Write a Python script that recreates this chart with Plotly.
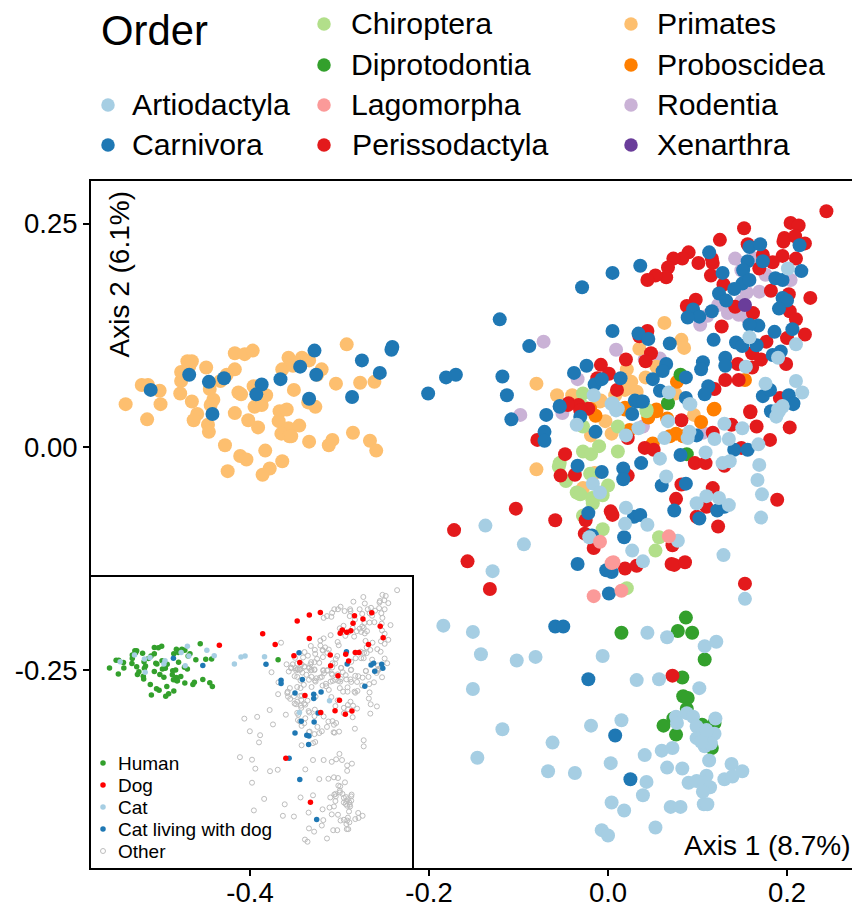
import plotly.graph_objects as go

# ---- main ordination, points as (Axis 1, Axis 2) ----
human_primates = [(-0.539,0.048),(-0.515,0.031),(-0.521,0.0695),(-0.514,0.0695),(-0.501,0.063),(-0.500,0.048),(-0.478,0.060),(-0.477,0.074),(-0.477,0.084),(-0.470,0.096),(-0.465,0.096),(-0.468,0.090),(-0.449,0.089),(-0.465,0.051),(-0.459,0.037),(-0.463,0.030),(-0.447,0.025),(-0.446,0.017),(-0.445,0.065),(-0.441,0.053),(-0.444,0.047),(-0.428,0.002),(-0.417,0.038),(-0.417,0.105),(-0.406,0.104),(-0.397,0.108),(-0.417,0.087),(-0.426,0.081),(-0.433,0.074),(-0.413,0.061),(-0.410,0.059),(-0.396,0.068),(-0.402,0.030),(-0.391,0.022),(-0.382,0.058),(-0.395,0.045),(-0.387,0.047),(-0.351,0.064),(-0.367,0.040),(-0.359,0.042),(-0.368,0.029),(-0.357,0.021),(-0.345,0.024),(-0.365,0.015),(-0.356,0.012),(-0.354,0.012),(-0.334,0.006),(-0.383,-0.004),(-0.411,-0.010),(-0.404,-0.014),(-0.364,-0.016),(-0.378,-0.024),(-0.386,-0.031),(-0.425,-0.027),(-0.292,0.115),(-0.357,0.100),(-0.364,0.087),(-0.352,0.091),(-0.342,0.100),(-0.344,0.096),(-0.334,0.097),(-0.320,0.087),(-0.325,0.081),(-0.304,0.071),(-0.277,0.072),(-0.261,0.073),(-0.335,0.050),(-0.327,0.045),(-0.285,0.016),(-0.266,0.007),(-0.259,-0.004),(-0.308,0.008),(-0.312,0.002),(-0.080,0.071)]

other_primates = [(0.063,0.139),(0.082,0.120),(0.085,0.111),(0.035,0.110),(0.021,0.087),(0.026,0.073),(0.042,0.078),(0.054,0.090),(0.019,0.064),(0.032,0.062),(0.008,0.058),(-0.008,0.052),(-0.057,0.058),(-0.040,0.058),(0.075,0.060),
(-0.080,-0.025),(-0.015,-0.029),(-0.028,-0.046),(-0.019,0.013),(0.004,0.015),(-0.003,0.029),(0.096,0.036),(-0.009,0.051)]

carnivora = [(-0.328,0.108),(-0.275,0.097),(-0.255,0.083),(-0.241,0.112),(-0.242,0.109),(-0.201,0.060),(-0.181,0.078),(-0.170,0.081),(-0.286,0.056),(-0.334,0.054),(-0.366,0.076),(-0.387,0.070),(-0.393,0.059),(-0.429,0.077),(-0.446,0.073),(-0.442,0.037),(-0.511,0.064),(-0.468,0.081),(-0.344,0.090),(-0.326,0.081),
(-0.029,0.179),(0.005,0.195),(0.036,0.203),(0.113,0.218),(-0.121,0.143),(-0.088,0.113),(0.005,0.130),(0.034,0.127),(0.045,0.121),(0.069,0.116),(0.118,0.120),(-0.118,0.079),(-0.113,0.058),(-0.024,0.091),(-0.038,0.083),(-0.015,0.070),(-0.007,0.076),(0.014,0.077),(-0.054,0.046),(0.065,0.093),(0.061,0.085),(0.050,0.076),(0.087,0.078),(0.106,0.095),(0.104,0.087),(0.131,0.100),(0.131,0.091),(0.112,0.068),(0.108,0.059),(0.058,0.063),(0.030,0.052),(0.037,0.051),(0.087,0.055),(0.158,0.224),(0.170,0.227),(0.214,0.226),(0.173,0.208),(0.156,0.208),(0.151,0.198),(0.128,0.195),(0.216,0.197),(0.187,0.189),(0.195,0.187),(0.150,0.183),(0.158,0.187),(0.141,0.177),(0.124,0.172),(0.132,0.164),(0.116,0.152),(0.095,0.154),(0.102,0.146),(0.089,0.145),(0.195,0.167),(0.200,0.164),(0.191,0.155),(0.168,0.136),(0.158,0.137),(0.206,0.132),(0.186,0.129),(0.143,0.117),(0.150,0.113),(0.166,0.114),(0.193,0.107),(0.184,0.103),(0.173,0.057),(0.181,0.064),(0.202,0.058),(0.207,0.049),
(-0.034,-0.131),(0.001,-0.164),(-0.002,-0.138),(0.004,-0.140),(0.018,-0.101),(0.029,-0.078),(0.036,-0.076),(-0.022,-0.074),(-0.018,-0.099),(-0.034,-0.021),(-0.007,-0.028),(0.017,-0.024),(0.017,-0.036),(0.037,-0.018),(0.060,-0.043),(0.087,-0.041),(0.074,-0.071),(0.102,-0.080),(0.122,-0.071),(0.130,-0.067),(0.081,-0.009),(0.141,-0.003),(0.156,-0.003),(-0.071,0.017),(-0.071,0.007),(-0.108,0.031),(-0.069,0.036),(-0.054,0.045),(0.027,0.037),(-0.014,0.017),(-0.031,0.034),(0.099,0.013),(0.182,0.040),(0.207,0.048),(0.032,0.051),(0.039,0.051),
(-0.059,-0.201),(-0.050,-0.201),(-0.022,-0.260),(0.008,-0.323),(0.025,-0.372)]

perissodactyla = [(0.244,0.264),(0.204,0.251),(0.213,0.248),(0.152,0.245),(0.125,0.232),(0.156,0.227),(0.197,0.234),(0.209,0.236),(0.196,0.230),(0.220,0.228),(0.195,0.214),(0.210,0.211),(0.173,0.215),(0.184,0.207),(0.169,0.200),(0.182,0.175),(0.202,0.171),(0.226,0.167),(0.203,0.152),(0.210,0.143),(0.200,0.122),(0.220,0.126),(0.177,0.118),(0.161,0.105),(0.171,0.098),(0.161,0.089),(0.145,0.093),(0.199,0.093),(0.131,0.075),(0.146,0.075),(0.119,0.065),(0.192,0.055),(0.159,0.040),(0.090,0.218),(0.083,0.211),(0.073,0.211),(0.067,0.201),(0.065,0.190),(0.053,0.192),(0.044,0.187),(0.101,0.206),(0.117,0.206),(0.116,0.211),(0.115,0.192),(0.129,0.182),(0.098,0.165),(0.088,0.158),(0.093,0.152),(0.127,0.135),(0.162,0.150),(0.142,0.157),(0.044,0.130),(0.035,0.124),(0.048,0.105),(0.020,0.098),(-0.008,0.092),(0.001,0.082),(0.042,0.096),(-0.012,0.077),(0.010,0.064),(-0.044,0.049),(-0.033,0.047),
(-0.172,-0.093),(-0.103,-0.069),(-0.059,-0.082),(-0.157,-0.128),(-0.132,-0.159),(-0.079,0.008),(-0.048,-0.008),(-0.053,-0.032),(-0.037,-0.031),(0.003,-0.072),(0.005,-0.076),(-0.025,-0.082),(-0.026,-0.097),(-0.016,-0.113),(0.019,-0.136),(0.032,-0.133),(0.071,-0.131),(0.074,-0.132),(0.086,-0.129),(0.072,-0.110),(0.123,-0.089),(0.099,-0.078),(0.110,-0.067),(0.117,-0.046),(0.076,-0.058),(0.082,-0.042),(0.022,-0.032),(0.189,-0.059),(0.153,-0.153),(0.203,0.022),(0.181,0.008),(0.166,0.023),(0.159,0.039),(0.149,-0.001),(0.117,0.016),(0.138,0.025),(0.130,-0.021),(0.097,-0.018),(0.109,-0.018),(0.041,-0.001),(0.051,-0.003),(0.022,0.010),(0.082,0.030),(-0.022,0.043),(-0.045,0.047),(-0.031,0.041),
(0.072,-0.256)]

rodentia = [(-0.072,0.118),(0.142,0.211),(0.164,0.211),(0.149,0.198),(0.176,0.193),(0.204,0.187),(0.155,0.173),(0.169,0.174),(0.123,0.159),(0.134,0.150),(0.146,0.148),(0.149,0.163),(0.156,0.144),(0.111,0.147),(0.103,0.137),(0.009,0.109),(0.041,0.098),(0.058,0.099),(-0.034,0.076),(-0.098,0.036),(-0.051,0.038),(0.039,0.023),(0.106,0.016)]

xenarthra = [(0.153,0.159)]

artiodactyla = [(0.201,0.200),(0.210,0.115),(0.158,0.123),(0.190,0.100),(0.154,0.090),(0.176,0.071),(0.210,0.074),(0.217,0.061),(0.068,0.061),(-0.016,0.058),(0.005,0.049),(0.091,0.048),(0.195,0.046),(0.190,0.042),(0.011,0.043),
(-0.137,-0.088),(-0.094,-0.109),(-0.129,-0.139),(0.153,-0.170),(0.129,-0.121),(0.171,-0.079),(0.172,-0.053),(0.167,-0.037),(0.169,-0.020),(0.168,0.003),(0.150,0.021),(0.130,0.026),(0.135,0.009),(0.119,0.009),(0.109,-0.006),(0.128,-0.018),(0.136,-0.016),(0.135,-0.065),(0.124,-0.057),(0.110,-0.055),(0.099,-0.063),(0.065,-0.033),(0.058,-0.013),(0.063,0.010),(0.091,0.017),(0.089,0.010),(0.067,0.029),(0.020,0.013),(0.034,0.021),(-0.035,0.025),(0.009,0.041),(0.004,0.048),(-0.017,-0.041),(-0.009,-0.051),(0.020,-0.068),(0.019,-0.086),(0.044,-0.087),(-0.021,-0.101),(0.027,-0.116),(0.039,-0.128),(0.078,-0.105),(0.188,0.034),(0.195,0.045),(0.191,0.040),(0.092,0.048),
(-0.184,-0.200),(-0.151,-0.207),(-0.142,-0.232),(-0.102,-0.239),(-0.081,-0.235),(-0.006,-0.234),(-0.151,-0.271),(-0.118,-0.316),(-0.062,-0.331),(-0.146,-0.348),(-0.067,-0.363),(-0.037,-0.365),(-0.019,-0.312),(0.015,-0.306),(0.003,-0.354),(0.044,-0.208),(0.066,-0.213),(0.032,-0.261),(0.057,-0.260),(0.108,-0.223),(0.121,-0.218),(0.102,-0.270),(0.041,-0.345),(0.060,-0.340),(0.072,-0.337),(0.066,-0.359),(0.083,-0.360),(0.043,-0.375),(0.039,-0.390),(0.004,-0.398),(0.018,-0.407),(-0.007,-0.429),(0.000,-0.435),(0.053,-0.426),(0.070,-0.403),(0.081,-0.403),(0.107,-0.400),(0.111,-0.400),(0.090,-0.376),(0.099,-0.374),(0.110,-0.368),(0.108,-0.376),(0.114,-0.381),(0.106,-0.386),(0.113,-0.351),(0.130,-0.372),(0.139,-0.369),(0.138,-0.355),(0.150,-0.363),(0.076,-0.302),(0.088,-0.298),(0.077,-0.309),(0.095,-0.302),(0.099,-0.313),(0.120,-0.304),(0.099,-0.326),(0.106,-0.322),(0.114,-0.326),(0.119,-0.321),(0.108,-0.335),(0.115,-0.332),(0.104,-0.330),(0.110,-0.317)]

chiroptera = [(-0.028,0.060),(-0.027,0.045),(0.043,0.042),(-0.028,-0.005),(-0.019,-0.008),(-0.010,0.001),(0.011,-0.005),(0.011,0.023),(-0.027,0.044),(-0.054,-0.018),(-0.055,-0.022),(-0.047,-0.038),(-0.020,-0.030),(0.000,-0.043),(-0.035,-0.051),(-0.031,-0.053),(-0.018,-0.057),(-0.017,-0.063),(-0.006,-0.054),(-0.028,-0.077),(-0.006,-0.092),(0.057,-0.101),(0.053,-0.116),(0.021,-0.158),(-0.028,0.023),(0.043,0.040)]

diprotodontia = [(0.081,0.081),(0.067,0.049),(0.088,-0.008),(0.087,-0.191),(0.078,-0.206),(0.094,-0.208),(0.015,-0.208),(0.108,-0.238),(0.083,-0.258),(0.084,-0.279),(0.089,-0.281),(0.088,-0.293),(0.062,-0.312),(0.073,-0.304),(0.076,-0.322),(0.105,-0.311),(0.119,-0.309),(0.116,-0.337)]

lagomorpha = [(-0.016,-0.167),(0.015,-0.161),(0.006,-0.129),(0.004,-0.130),(-0.009,-0.106),(0.068,-0.100)]

proboscidea = [(0.077,0.073),(0.119,0.043),(0.054,0.042),(0.019,0.044),(0.153,0.075),(0.118,0.042),(0.104,0.028),(-0.014,0.035),(0.045,0.033),(0.054,0.040),(0.066,0.032),(0.076,0.015),(0.069,0.012),(0.050,0.004),(0.024,0.019),(-0.020,0.043),(0.019,0.042),(0.084,0.012)]

# ---- inset: carnivores split by household ----
dog = [(-0.240,0.111),(-0.122,0.143),(-0.088,0.113),(-0.028,0.178),(0.005,0.195),(0.035,0.202),(0.128,0.193),(0.175,0.201),(0.151,0.184),(0.124,0.172),(0.198,0.164),(0.089,0.144),(0.095,0.153),(0.107,0.147),(0.118,0.151),(0.005,0.130),(0.206,0.132),(0.166,0.113),(0.130,0.091),(0.140,0.091),(0.062,0.084),(0.104,0.086),(-0.037,0.082),(0.112,0.067),(-0.021,0.063),(0.063,0.054),(0.083,0.026),(-0.007,-0.029),(0.087,-0.042),(0.036,-0.076),(0.075,-0.071),(0.103,-0.081),(0.121,-0.072),(-0.059,-0.203),(0.008,-0.325)]
cat = [(-0.510,0.065),(-0.471,0.084),(-0.444,0.073),(-0.429,0.077),(-0.442,0.036),(-0.388,0.068),(-0.391,0.059),(-0.344,0.091),(-0.327,0.108),(-0.323,0.081),(-0.333,0.054),(-0.274,0.097),(-0.254,0.082),(-0.199,0.059),(-0.181,0.078),(-0.170,0.081),(-0.117,0.079),(0.060,-0.043),(-0.022,-0.076)]
cat_with_dog = [(-0.365,0.075),(-0.285,0.055),(-0.113,0.058),(-0.023,0.090),(0.106,0.093),(0.108,0.059),(0.180,0.061),(0.173,0.056),(0.202,0.058),(0.205,0.047),(0.183,0.039),(-0.072,0.014),(-0.072,0.005),(-0.014,0.016),(0.156,-0.003),(-0.034,-0.022),(0.037,-0.019),(0.017,-0.025),(0.017,-0.037),(0.029,-0.077),(-0.017,-0.100),(0.018,-0.102),(-0.034,-0.133),(-0.002,-0.139),(0.004,-0.141),(0.003,-0.165),(-0.050,-0.203),(-0.021,-0.262),(0.025,-0.373)]

x_ticks = [-0.4, -0.2, 0.0, 0.2]
x_tick_labels = ["-0.4", "-0.2", "0.0", "0.2"]
y_ticks = [0.25, 0.0, -0.25]
y_tick_labels = ["0.25", "0.00", "-0.25"]

W, H = 852, 905
FONT = "Liberation Sans"
COL = {"Artiodactyla":"#a6cee3","Carnivora":"#1f78b4","Chiroptera":"#b2df8a","Diprotodontia":"#33a02c",
       "Lagomorpha":"#fb9a99","Perissodactyla":"#e31a1c","Primates":"#fdbf6f","Proboscidea":"#ff7f00",
       "Rodentia":"#cab2d6","Xenarthra":"#6a3d9a"}

def xs(p): return [a for a, _ in p]
def ys(p): return [b for _, b in p]
def dx(a, b): return [a / W, b / W]
def dy(top, bottom): return [1 - bottom / H, 1 - top / H]

fig = go.Figure()
layers = [("Rodentia",rodentia),("Primates",human_primates + other_primates),("Proboscidea",proboscidea),("Diprotodontia",diprotodontia),
          ("Chiroptera",chiroptera),("Perissodactyla",perissodactyla),("Carnivora",carnivora),
          ("Artiodactyla",artiodactyla),("Lagomorpha",lagomorpha),("Xenarthra",xenarthra)]
for name, pts in layers:
    fig.add_trace(go.Scatter(x=xs(pts), y=ys(pts), mode="markers", name=name, showlegend=False,
                             marker=dict(size=14, color=COL[name], line=dict(width=0))))

other = artiodactyla + chiroptera + diprotodontia + lagomorpha + perissodactyla + proboscidea + rodentia + xenarthra + other_primates
fig.add_trace(go.Scatter(x=xs(other), y=ys(other), mode="markers", xaxis="x2", yaxis="y2", showlegend=False,
                         marker=dict(size=5, color="rgba(255,255,255,0)", line=dict(width=1, color="#bdbdbd"))))
for pts, c in [(human_primates,"#33a02c"),(cat,"#a6cee3"),(cat_with_dog,"#1f78b4"),(dog,"#ff0000")]:
    fig.add_trace(go.Scatter(x=xs(pts), y=ys(pts), mode="markers", xaxis="x2", yaxis="y2", showlegend=False,
                             marker=dict(size=5.5, color=c, line=dict(width=0))))

# legend keys and labels live on a hidden page-sized axis pair
ann = []
def text(s, x, y, size, **kw):
    ann.append(dict(text=s, x=x, y=y, xref="x3", yref="y3", showarrow=False,
                    xanchor=kw.pop("xanchor", "left"), yanchor="middle", borderpad=0,
                    font=dict(family=FONT, size=size, color="black"), **kw))

legend_rows = [("Artiodactyla",108,131,105),("Carnivora",108,131,145),("Chiroptera",324,350,24),("Diprotodontia",324,350,65),
               ("Lagomorpha",324,350,105),("Perissodactyla",324,351,145),("Primates",631,656,24),("Proboscidea",631,656,65),
               ("Rodentia",631,656,105),("Xenarthra",631,656,145)]
fig.add_trace(go.Scatter(x=[r[1] for r in legend_rows], y=[r[3] for r in legend_rows], mode="markers", xaxis="x3", yaxis="y3",
                         showlegend=False, marker=dict(size=13.5, color=[COL[r[0]] for r in legend_rows], line=dict(width=0))))
for n, _, tx, ty in legend_rows:
    text(n, tx, ty - 1, 30.2)
text("Order", 100, 30, 41.8)

inset_rows = [("Human","#33a02c",763),("Dog","#ff0000",785),("Cat","#a6cee3",807),("Cat living with dog","#1f78b4",829)]
fig.add_trace(go.Scatter(x=[103]*4, y=[r[2] for r in inset_rows], mode="markers", xaxis="x3", yaxis="y3", showlegend=False,
                         marker=dict(size=5.5, color=[r[1] for r in inset_rows], line=dict(width=0))))
fig.add_trace(go.Scatter(x=[103], y=[851], mode="markers", xaxis="x3", yaxis="y3", showlegend=False,
                         marker=dict(size=5, color="rgba(255,255,255,0)", line=dict(width=1, color="#bdbdbd"))))
for n, _, ty in inset_rows:
    text(n, 117, ty, 19)
text("Other", 117, 851, 19)

text("Axis 1 (8.7%)", 852, 845, 28, xanchor="right")
text("Axis 2 (6.1%)", 119, 274.5, 28, textangle=-90, xanchor="center")

frame = dict(showline=True, linecolor="black", linewidth=2, mirror=True, showgrid=False, zeroline=False, automargin=False)
fig.update_layout(
    width=W, height=H, margin=dict(l=0, r=0, t=0, b=0), paper_bgcolor="white", plot_bgcolor="rgba(0,0,0,0)",
    showlegend=False, annotations=ann, font=dict(family=FONT, color="black"),
    xaxis=dict(domain=dx(91, 852), range=[-0.5777, 0.2726], tickvals=x_ticks, ticktext=x_tick_labels,
               ticks="outside", ticklen=6, tickwidth=1.5, tickcolor="black", ticklabelstandoff=-7,
               tickfont=dict(size=27.5, family=FONT), **frame),
    yaxis=dict(domain=dy(181, 868), range=[-0.4714, 0.2979], tickvals=y_ticks, ticktext=y_tick_labels,
               ticks="outside", ticklen=6, tickwidth=1.5, tickcolor="black",
               tickfont=dict(size=27.5, family=FONT), **frame),
    xaxis2=dict(domain=dx(91, 412), range=[-0.5894, 0.2845], anchor="y2", showticklabels=False, ticks="", **frame),
    yaxis2=dict(domain=dy(577, 868), range=[-0.508, 0.3006], anchor="x2", showticklabels=False, ticks="", **frame),
    xaxis3=dict(domain=[0, 1], range=[0, W], anchor="y3", visible=False, automargin=False),
    yaxis3=dict(domain=[0, 1], range=[H, 0], anchor="x3", visible=False, automargin=False),
)
fig.write_html("out.html", config={"displayModeBar": False},
               post_script="document.body.style.margin='0';window.dispatchEvent(new Event('resize'));")
